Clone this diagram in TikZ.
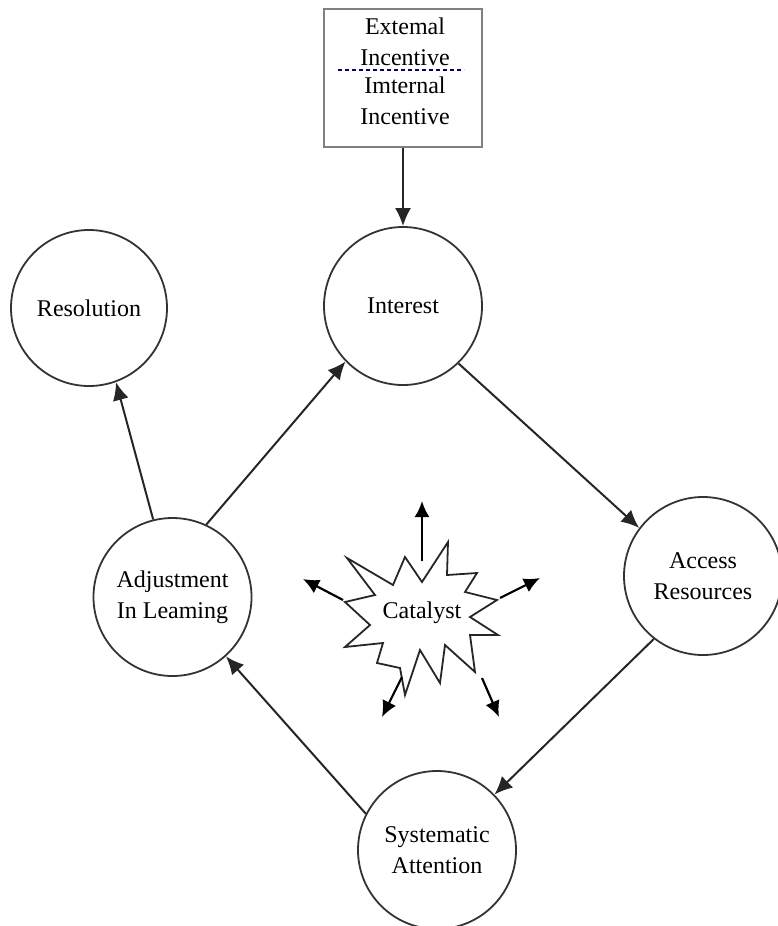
\documentclass[tikz,border=0pt]{standalone}
\usepackage{fontspec}
\setmainfont{Liberation Serif}
\usetikzlibrary{positioning,arrows.meta}

\begin{document}
\begin{tikzpicture}[x=1pt,y=1pt,font=\fontsize{24}{31}\selectfont]
\tikzstyle{stage}=[circle,draw=black!80,line width=1.8pt,minimum size=158pt,
  inner sep=0pt,align=center]
\tikzstyle{flow}=[-{Latex[length=18pt,width=16pt]},line width=2pt,black!85]
\tikzstyle{burst}=[-{Latex[length=16pt,width=15pt]},line width=2.2pt,black]
\useasboundingbox (0,0) rectangle (777,-926);
% incentive box
\node[draw=black!50,line width=1.5pt,minimum width=158pt,minimum height=138pt,
  inner sep=0pt] (incent) at (403,-78) {};
\node (ext) at (405,-44) {\begin{tabular}{@{}c@{}}Extemal\\Incentive\end{tabular}};
\node (int) at (405,-103) {\begin{tabular}{@{}c@{}}Imternal\\Incentive\end{tabular}};
\draw[blue!45!black,line width=1.3pt,dash pattern=on 4pt off 3pt] (338,-70) -- (464,-70);
% stages
\node[stage] (interest) at (403,-306) {Interest};
\node[stage,minimum size=156pt] (resol) at (89,-308) {Resolution};
\node[stage] (adjust) at (172.5,-597) {Adjustment\\In Leaming};
\node[stage] (access) at (703,-576) {Access\\Resources};
\node[stage] (system) at (437,-850) {Systematic\\Attention};
% catalyst
\draw[line width=1.8pt,black!85,fill=white]
  (448,-542) -- (422,-582) -- (405,-557) -- (393,-585) -- (347,-558)
  -- (375,-595) -- (345,-602) -- (370,-625) -- (345,-647) -- (383,-643)
  -- (377,-663) -- (400,-668) -- (405,-695) -- (420,-650) -- (440,-683)
  -- (445,-645) -- (475,-672) -- (470,-635) -- (498,-635) -- (470,-617)
  -- (497,-600) -- (465,-592) -- (477,-573) -- (447,-575) -- cycle;
\node (cat) at (422,-613) {Catalyst};
\coordinate (cup0) at (422,-561);  \coordinate (cup1) at (422,-501);
\coordinate (clf0) at (343,-600);  \coordinate (clf1) at (303,-579);
\coordinate (crt0) at (500,-598);  \coordinate (crt1) at (540,-578);
\coordinate (cbl0) at (402,-677);  \coordinate (cbl1) at (382,-717);
\coordinate (cbr0) at (482,-678);  \coordinate (cbr1) at (499,-717);
\draw[burst] (cup0) -- (cup1);
\draw[burst] (clf0) -- (clf1);
\draw[burst] (crt0) -- (crt1);
\draw[burst] (cbl0) -- (cbl1);
\draw[burst] (cbr0) -- (cbr1);
% cycle
\draw[flow] (interest.north |- incent.south) -- (interest.north);
\draw[flow] (interest.-46) -- (access.143);
\draw[flow] (access.-128) -- (system.44);
\draw[flow] (system.153) -- (adjust.-48);
\draw[flow] (adjust.65) -- (interest.-136);
\draw[flow] (adjust.104) -- (resol.-70);
\end{tikzpicture}
\end{document}
